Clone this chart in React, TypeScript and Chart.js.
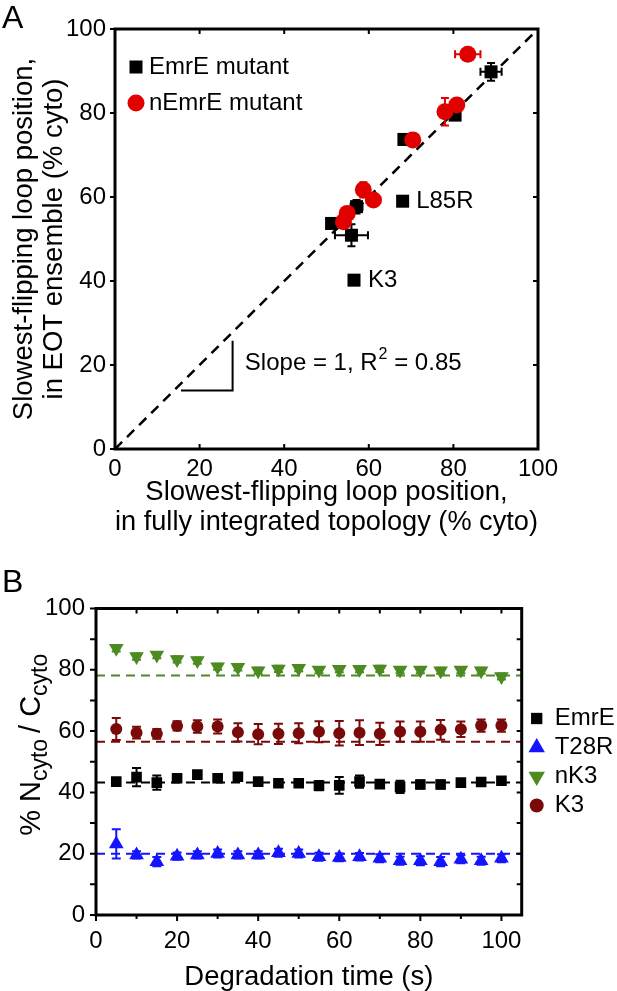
import { useEffect, useRef } from 'react';
import { Chart, registerables } from 'chart.js';

Chart.register(...registerables);

const FONT = "'Liberation Sans', Arial, Helvetica, sans-serif";
Chart.defaults.font.family = FONT;
Chart.defaults.color = '#000';

// ---- Panel A: slowest-flipping loop position (% cyto) ----
const emreX = [88.9, 80.4, 68.3, 68.0, 56.5, 51.2, 55.9, 57.1];
const emreY = [89.8, 79.5, 73.7, 59.0, 40.2, 53.7, 50.9, 57.7];
const emreErrX = [2.5, 0, 0, 0, 0, 0.8, 3.9, 1.4];
const emreErrY = [2.1, 0, 0, 0, 0, 0.8, 2.6, 1.6];

const nemreX = [83.4, 80.8, 78.0, 70.4, 58.7, 61.1, 54.9, 54.0];
const nemreY = [94.0, 81.9, 80.3, 73.6, 61.7, 59.3, 56.1, 54.1];
const nemreErrX = [3.0, 0.6, 0.8, 0, 0.6, 1.6, 0.6, 0.6];
const nemreErrY = [0.5, 0.6, 3.3, 0, 1.8, 0.6, 0.6, 0.6];

const slopeX = [15.6, 27.8, 27.8];
const slopeY = [13.9, 13.9, 25.8];

// ---- Panel B: % Ncyto / Ccyto over degradation time ----
const times = [5, 10, 15, 20, 25, 30, 35, 40, 45, 50, 55, 60, 65, 70, 75, 80, 85, 90, 95, 100];
const emrE = [43.5, 45.0, 43.2, 44.6, 45.8, 44.6, 45.1, 43.5, 43.0, 43.0, 42.2, 42.3, 43.5, 42.7, 41.8, 42.6, 42.6, 43.2, 43.4, 43.8];
const emrEErr = [0.8, 3.0, 2.3, 1.0, 1.0, 1.0, 1.0, 1.0, 0.8, 1.0, 1.5, 2.7, 2.0, 1.0, 2.0, 1.3, 1.3, 1.0, 1.0, 1.0];
const t28r = [23.2, 19.6, 17.4, 19.2, 19.6, 20.1, 19.6, 19.6, 20.3, 20.1, 19.0, 18.8, 19.0, 18.5, 17.7, 17.7, 17.4, 18.2, 17.7, 18.5];
const t28rErr = [4.8, 1.2, 1.5, 1.2, 1.2, 1.3, 1.2, 1.2, 1.3, 1.3, 1.3, 1.3, 1.2, 1.3, 1.3, 1.5, 1.5, 1.3, 1.3, 1.3];
const nK3 = [87.0, 84.3, 84.8, 83.4, 83.0, 81.0, 80.8, 79.7, 80.3, 80.5, 79.9, 80.2, 80.2, 80.3, 79.9, 79.9, 79.7, 79.9, 79.7, 77.8];
const nK3Err = [1.0, 1.0, 1.0, 1.0, 1.0, 1.0, 1.0, 1.0, 1.0, 1.0, 1.0, 1.0, 1.0, 1.0, 1.0, 1.0, 1.0, 1.0, 1.0, 1.0];
const k3 = [60.7, 59.5, 59.1, 61.7, 61.5, 61.5, 59.6, 59.0, 59.1, 59.3, 59.8, 59.3, 59.5, 59.1, 59.8, 59.8, 60.4, 60.6, 61.8, 61.8];
const k3Err = [3.6, 1.9, 1.6, 1.5, 2.0, 2.3, 3.0, 3.3, 3.3, 3.3, 3.4, 4.0, 4.0, 3.6, 3.3, 3.3, 3.2, 2.5, 2.0, 2.0];
const emrELevel = 43.2;
const t28rLevel = 20;
const nK3Level = 78.1;
const k3Level = 56.5;

const RED = '#e00000';
const GREEN = '#4d8b22';
const MAROON = '#7a0a0a';
const BLUE = '#1414ff';

type Side = 'left' | 'right' | 'top' | 'bottom';
interface TickSet { side: Side; values: number[]; len: number; out: boolean }

const range = (a: number, b: number, s: number) => {
  const out: number[] = [];
  for (let v = a; v <= b; v += s) out.push(v);
  return out;
};

// error bars drawn just before each dataset's markers
const errorBars = {
  id: 'errorBars',
  beforeDatasetDraw(chart: any, args: any) {
    const ds = chart.data.datasets[args.index];
    if (!ds.errX && !ds.errY) return;
    const { ctx } = chart;
    const xs = chart.scales.x;
    const ys = chart.scales.y;
    const cap = ds.cap || 4;
    ctx.save();
    ctx.strokeStyle = ds.backgroundColor;
    ctx.lineWidth = 2;
    ctx.beginPath();
    ds.data.forEach((p: any, i: number) => {
      const cx = xs.getPixelForValue(p.x);
      const cy = ys.getPixelForValue(p.y);
      const ey = ds.errY ? ds.errY[i] : 0;
      const ex = ds.errX ? ds.errX[i] : 0;
      if (ey) {
        const y1 = ys.getPixelForValue(p.y + ey);
        const y2 = ys.getPixelForValue(p.y - ey);
        ctx.moveTo(cx, y1); ctx.lineTo(cx, y2);
        ctx.moveTo(cx - cap, y1); ctx.lineTo(cx + cap, y1);
        ctx.moveTo(cx - cap, y2); ctx.lineTo(cx + cap, y2);
      }
      if (ex) {
        const x1 = xs.getPixelForValue(p.x - ex);
        const x2 = xs.getPixelForValue(p.x + ex);
        ctx.moveTo(x1, cy); ctx.lineTo(x2, cy);
        ctx.moveTo(x1, cy - cap); ctx.lineTo(x1, cy + cap);
        ctx.moveTo(x2, cy - cap); ctx.lineTo(x2, cy + cap);
      }
    });
    ctx.stroke();
    ctx.restore();
  },
};

function framePlugin(ticks: TickSet[], width: number) {
  return {
    id: 'frame',
    afterDatasetsDraw(chart: any) {
      const { ctx, chartArea: a } = chart;
      const xs = chart.scales.x;
      const ys = chart.scales.y;
      ctx.save();
      ctx.strokeStyle = '#000';
      ctx.lineWidth = 2;
      ctx.beginPath();
      ticks.forEach(t => {
        const d = t.out ? t.len : -t.len;
        t.values.forEach(v => {
          if (t.side === 'left' || t.side === 'right') {
            const y = ys.getPixelForValue(v);
            const x0 = t.side === 'left' ? a.left : a.right;
            const x1 = t.side === 'left' ? a.left - d : a.right + d;
            ctx.moveTo(x0, y); ctx.lineTo(x1, y);
          } else {
            const x = xs.getPixelForValue(v);
            const y0 = t.side === 'bottom' ? a.bottom : a.top;
            const y1 = t.side === 'bottom' ? a.bottom + d : a.top - d;
            ctx.moveTo(x, y0); ctx.lineTo(x, y1);
          }
        });
      });
      ctx.stroke();
      ctx.lineWidth = width;
      ctx.strokeRect(a.left, a.top, a.right - a.left, a.bottom - a.top);
      ctx.restore();
    },
  };
}

function marker(ctx: CanvasRenderingContext2D, style: string, x: number, y: number, r: number, color: string) {
  ctx.fillStyle = color;
  ctx.beginPath();
  if (style === 'rect') {
    const s = r * Math.SQRT1_2;
    ctx.rect(x - s, y - s, 2 * s, 2 * s);
  } else if (style === 'circle') {
    ctx.arc(x, y, r, 0, Math.PI * 2);
  } else {
    const dir = style === 'up' ? -1 : 1;
    const hw = r * Math.sin(Math.PI / 3);
    ctx.moveTo(x, y + dir * r);
    ctx.lineTo(x - hw, y - dir * r / 2);
    ctx.lineTo(x + hw, y - dir * r / 2);
    ctx.closePath();
  }
  ctx.fill();
}

const annotA = {
  id: 'annotA',
  afterDatasetsDraw(chart: any) {
    const { ctx, chartArea: a } = chart;
    const xs = chart.scales.x;
    const ys = chart.scales.y;
    ctx.save();
    ctx.fillStyle = '#000';
    ctx.textAlign = 'left';
    ctx.textBaseline = 'middle';
    ctx.font = `24px ${FONT}`;
    ctx.fillText('L85R', xs.getPixelForValue(71.2), ys.getPixelForValue(59));
    ctx.fillText('K3', xs.getPixelForValue(59.8), ys.getPixelForValue(40.2));

    // slope label with superscript
    let x = xs.getPixelForValue(30.7);
    const y = ys.getPixelForValue(20.4);
    const s1 = 'Slope = 1, R';
    ctx.fillText(s1, x, y);
    x += ctx.measureText(s1).width;
    ctx.font = `16px ${FONT}`;
    ctx.fillText('2', x + 1, y - 9);
    x += ctx.measureText('2').width + 1;
    ctx.font = `24px ${FONT}`;
    ctx.fillText(' = 0.85', x, y);

    // legend
    marker(ctx, 'rect', a.left + 21, a.top + 38, 9.2, '#000');
    marker(ctx, 'circle', a.left + 21, a.top + 74, 8.5, RED);
    ctx.fillStyle = '#000';
    ctx.fillText('EmrE mutant', a.left + 34, a.top + 38);
    ctx.fillText('nEmrE mutant', a.left + 34, a.top + 74);

    ctx.font = `32px ${FONT}`;
    ctx.textBaseline = 'alphabetic';
    ctx.fillText('A', 2, 28);
    ctx.restore();
  },
};

const annotB = {
  id: 'annotB',
  afterDatasetsDraw(chart: any) {
    const { ctx, chartArea: a } = chart;
    ctx.save();
    ctx.fillStyle = '#000';
    ctx.textAlign = 'left';

    // legend
    const rows: [string, string, string, number][] = [
      ['EmrE', 'rect', '#000', 8],
      ['T28R', 'up', BLUE, 9.5],
      ['nK3', 'down', GREEN, 9.5],
      ['K3', 'circle', MAROON, 7],
    ];
    const rowY = [110, 139, 168, 197];
    ctx.font = `24px ${FONT}`;
    ctx.textBaseline = 'middle';
    rows.forEach(([label, style, color, r], i) => {
      marker(ctx, style, a.right + 15, a.top + rowY[i], r, color);
      ctx.fillStyle = '#000';
      ctx.fillText(label, a.right + 33, a.top + rowY[i]);
    });

    // y title with subscripts
    const pieces: [string, number, number, number][] = [
      ['%', 29, 0, 8],
      ['N', 29, 0, 0],
      ['cyto', 23, 7, 6],
      ['/', 29, 0, 8],
      ['C', 29, 0, 0],
      ['cyto', 23, 7, 0],
    ];
    let total = 0;
    pieces.forEach(([t, s, , gap]) => { ctx.font = `${s}px ${FONT}`; total += ctx.measureText(t).width + gap; });
    ctx.translate(40, (a.top + a.bottom) / 2 - 17);
    ctx.rotate(-Math.PI / 2);
    ctx.textBaseline = 'alphabetic';
    let x = -total / 2;
    pieces.forEach(([t, s, dy, gap]) => {
      ctx.font = `${s}px ${FONT}`;
      ctx.fillText(t, x, dy);
      x += ctx.measureText(t).width + gap;
    });
    ctx.setTransform(1, 0, 0, 1, 0, 0);
    ctx.restore();

    ctx.save();
    ctx.fillStyle = '#000';
    ctx.font = `32px ${FONT}`;
    ctx.textBaseline = 'alphabetic';
    ctx.fillText('B', 2, 47);
    ctx.restore();
  },
};

const noGrid = { display: false, drawTicks: false };

export default function App() {
  const refA = useRef<HTMLCanvasElement | null>(null);
  const refB = useRef<HTMLCanvasElement | null>(null);

  useEffect(() => {
    if (!refA.current || !refB.current) return;

    const chartA = new Chart(refA.current, {
      type: 'scatter',
      data: {
        datasets: [
          {
            label: 'nEmrE mutant',
            data: nemreX.map((x, i) => ({ x, y: nemreY[i] })),
            errX: nemreErrX,
            errY: nemreErrY,
            pointStyle: 'circle',
            pointRadius: 8.5,
            backgroundColor: RED,
            borderColor: RED,
            borderWidth: 0,
            order: 1,
          },
          {
            label: 'EmrE mutant',
            data: emreX.map((x, i) => ({ x, y: emreY[i] })),
            errX: emreErrX,
            errY: emreErrY,
            pointStyle: 'rect',
            pointRadius: 9.2,
            backgroundColor: '#000',
            borderColor: '#000',
            borderWidth: 0,
            order: 2,
          },
          {
            type: 'line',
            label: 'identity',
            data: [{ x: 0, y: 0 }, { x: 100, y: 100 }],
            borderColor: '#000',
            borderWidth: 2.5,
            borderDash: [10, 7],
            pointRadius: 0,
            fill: false,
            order: 3,
          },
          {
            type: 'line',
            label: 'slope',
            data: slopeX.map((x, i) => ({ x, y: slopeY[i] })),
            borderColor: '#000',
            borderWidth: 2,
            pointRadius: 0,
            fill: false,
            order: 3,
          },
        ],
      } as any,
      options: {
        animation: false,
        responsive: true,
        maintainAspectRatio: false,
        layout: { padding: { left: 0, right: 79, top: 29, bottom: 0 } },
        plugins: { legend: { display: false }, tooltip: { enabled: false } },
        scales: {
          x: {
            type: 'linear',
            min: 0,
            max: 100,
            afterFit: (s: any) => { s.height = 96; },
            afterBuildTicks: (s: any) => { s.ticks = range(0, 100, 20).map(v => ({ value: v })); },
            grid: noGrid,
            border: { display: false },
            ticks: { font: { size: 24 }, padding: 6, maxRotation: 0 },
            title: {
              display: true,
              text: ['Slowest-flipping loop position,', 'in fully integrated topology (% cyto)'],
              font: { size: 27.5, lineHeight: 1.1 },
              padding: { top: 0, bottom: 7 },
            },
          },
          y: {
            type: 'linear',
            min: 0,
            max: 100,
            afterFit: (s: any) => { s.width = 115; },
            afterBuildTicks: (s: any) => { s.ticks = range(0, 100, 20).map(v => ({ value: v })); },
            grid: noGrid,
            border: { display: false },
            ticks: { font: { size: 24 }, padding: 9 },
            title: {
              display: true,
              text: ['Slowest-flipping loop position,', 'in EOT ensemble (% cyto)'],
              font: { size: 27.5, lineHeight: 1.1 },
              padding: { top: 9, bottom: 0 },
            },
          },
        },
      } as any,
      plugins: [
        errorBars,
        framePlugin([
          { side: 'left', values: range(0, 100, 20), len: 5, out: true },
          { side: 'bottom', values: range(20, 80, 20), len: 5, out: false },
          { side: 'top', values: range(20, 80, 20), len: 5, out: false },
          { side: 'right', values: range(20, 80, 20), len: 5, out: false },
        ], 3),
        annotA,
      ],
    });

    const series = (label: string, ys: number[], err: number[], style: string, r: number, color: string, rot: number, order: number) => ({
      label,
      data: times.map((x, i) => ({ x, y: ys[i] })),
      errY: err,
      cap: 4.5,
      pointStyle: style,
      rotation: rot,
      pointRadius: r,
      backgroundColor: color,
      borderColor: color,
      borderWidth: 0,
      order,
    });
    const level = (label: string, v: number, color: string) => ({
      type: 'line',
      label,
      data: [{ x: 0, y: v }, { x: 105, y: v }],
      borderColor: color,
      borderWidth: 2,
      borderDash: [9, 6],
      pointRadius: 0,
      fill: false,
      order: 10,
    });

    const chartB = new Chart(refB.current, {
      type: 'scatter',
      data: {
        datasets: [
          series('EmrE', emrE, emrEErr, 'rect', 7.5, '#000', 0, 1),
          series('T28R', t28r, t28rErr, 'triangle', 8.5, BLUE, 0, 2),
          series('nK3', nK3, nK3Err, 'triangle', 8.5, GREEN, 180, 3),
          series('K3', k3, k3Err, 'circle', 6, MAROON, 0, 4),
          level('EmrE level', emrELevel, '#000'),
          level('T28R level', t28rLevel, BLUE),
          level('nK3 level', nK3Level, GREEN),
          level('K3 level', k3Level, MAROON),
        ],
      } as any,
      options: {
        animation: false,
        responsive: true,
        maintainAspectRatio: false,
        layout: { padding: { left: 0, right: 95.3, top: 63.5, bottom: 0 } },
        plugins: { legend: { display: false }, tooltip: { enabled: false } },
        scales: {
          x: {
            type: 'linear',
            min: 0,
            max: 105,
            afterFit: (s: any) => { s.height = 76; },
            afterBuildTicks: (s: any) => { s.ticks = range(0, 100, 20).map(v => ({ value: v })); },
            grid: noGrid,
            border: { display: false },
            ticks: { font: { size: 24 }, padding: 12, maxRotation: 0 },
            title: {
              display: true,
              text: 'Degradation time (s)',
              font: { size: 27.5, lineHeight: 1.0 },
              padding: { top: 0, bottom: 0 },
            },
          },
          y: {
            type: 'linear',
            min: 0,
            max: 100,
            afterFit: (s: any) => { s.width = 96; },
            afterBuildTicks: (s: any) => { s.ticks = range(0, 100, 20).map(v => ({ value: v })); },
            grid: noGrid,
            border: { display: false },
            ticks: { font: { size: 24 }, padding: 11 },
            title: { display: false },
          },
        },
      } as any,
      plugins: [
        errorBars,
        framePlugin([
          { side: 'left', values: range(0, 100, 10), len: 6, out: true },
          { side: 'bottom', values: range(0, 100, 20), len: 6, out: true },
          { side: 'bottom', values: range(10, 90, 20), len: 4, out: true },
          { side: 'top', values: range(10, 100, 10), len: 5, out: false },
          { side: 'right', values: range(10, 90, 10), len: 5, out: false },
        ], 3),
        annotB,
      ],
    });

    return () => {
      chartA.destroy();
      chartB.destroy();
    };
  }, []);

  return (
    <div style={{ position: 'absolute', left: 0, top: 0, width: 617, height: 991, background: '#fff' }}>
      <div style={{ position: 'absolute', left: 0, top: 0, width: 617, height: 545 }}>
        <canvas ref={refA} />
      </div>
      <div style={{ position: 'absolute', left: 0, top: 545, width: 617, height: 446 }}>
        <canvas ref={refB} />
      </div>
    </div>
  );
}
